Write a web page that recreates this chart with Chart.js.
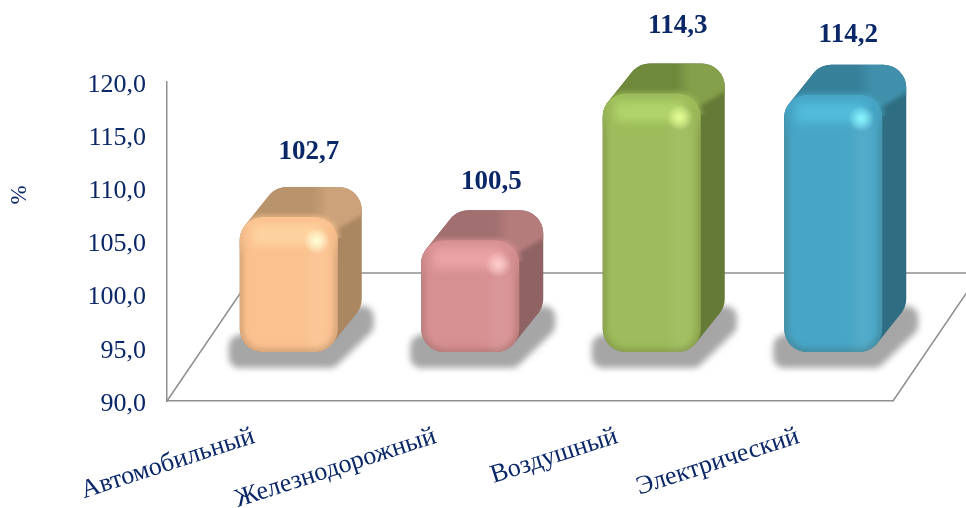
<!DOCTYPE html>
<html><head><meta charset="utf-8">
<style>html,body{margin:0;padding:0;background:#fff}canvas{display:block}</style>
<script src="https://cdn.jsdelivr.net/npm/chart.js@4"></script>
</head><body><canvas id="c" width="966" height="508"></canvas>
<script>
const categories = ['Автомобильный', 'Железнодорожный', 'Воздушный', 'Электрический'];
const values = [102.7, 100.5, 114.3, 114.2];
const yTickLabels = {90:'90,0',95:'95,0',100:'100,0',105:'105,0',110:'110,0',115:'115,0',120:'120,0'};
const axisUnit = '%';

const frontColors = ['#fbc290', '#d79092', '#9dbc5b', '#47a6c6'];
const sideColors  = ['#ab8761', '#8f6363', '#657a36', '#2f6e82'];
const topDark     = ['#b8936c', '#a16f70', '#6f893c', '#37809a'];
const topLight    = ['#cca27a', '#b57c7c', '#84a04b', '#4090ab'];
const bandColors  = ['#ffd8a6', '#f3aaac', '#b8dc70', '#57c3e2'];
const glintColors = ['255,255,215', '255,205,205', '230,255,150', '140,245,255'];
const labelNudgeX = [20, 21, 26, 15];
const labelLift   = [65, 58, 68, 60];

const NAVY = '#0a2768', LINE = '#8f8f8f', SERIF = '"Liberation Serif", serif';
const FRONT_DX = 31, FRONT_DY = -49, DEPTH_DX = 24, DEPTH_DY = -30, RADIUS = 23;
const FLOOR_DX = 87, FLOOR_DY = -128;

function box(el){
  const L = el.x - el.width/2 + FRONT_DX, R = el.x + el.width/2 + FRONT_DX;
  return {L, R, T: el.y + FRONT_DY, B: el.base + FRONT_DY, w: R-L, h: el.base-el.y};
}
function nudgeLabels(s, dx, dy){
  if(s._nudged) return;
  s._nudged = true;
  const orig = s.drawLabels;
  s.drawLabels = function(area){
    this.ctx.save(); this.ctx.translate(dx,dy); orig.call(this,area); this.ctx.restore();
  };
}
function hullOf(b){
  const hull = new Path2D();
  for(let s=0;s<=30;s++){
    const t=s/30;
    hull.roundRect(b.L+DEPTH_DX*t, b.T+DEPTH_DY*t, b.w, b.h, RADIUS);
  }
  return hull;
}
const scene = {
  id: 'scene',
  beforeDatasetsDraw(chart){
    const {ctx, chartArea:a} = chart;
    ctx.save();
    ctx.strokeStyle = LINE; ctx.lineWidth = 1.5;
    ctx.beginPath();
    ctx.moveTo(a.left, a.bottom); ctx.lineTo(a.left+FLOOR_DX, a.bottom+FLOOR_DY);
    ctx.lineTo(a.right+FLOOR_DX, a.bottom+FLOOR_DY); ctx.lineTo(a.right, a.bottom);
    ctx.stroke();
    ctx.restore();
  },
  beforeDatasetDraw(chart, args){
    const {ctx} = chart;
    const els = chart.getDatasetMeta(args.index).data;
    els.forEach((el,i)=>{
      const b = box(el);
      ctx.save();
      ctx.filter = 'blur(3px)';
      ctx.fillStyle = ctx.strokeStyle = '#a6a6a6';
      ctx.lineWidth = 22; ctx.lineJoin = 'round';
      ctx.beginPath();
      ctx.moveTo(b.L, b.B-6); ctx.lineTo(b.R+25, b.B-35); ctx.lineTo(b.R+25, b.B-27);
      ctx.lineTo(b.R-8, b.B+5); ctx.lineTo(b.L, b.B+5); ctx.closePath();
      ctx.fill(); ctx.stroke();
      ctx.restore();
      const hull = hullOf(b);
      ctx.save();
      ctx.fillStyle = sideColors[i]; ctx.fill(hull);
      ctx.clip(hull);
      const g = ctx.createLinearGradient(b.L, 0, b.R+DEPTH_DX, 0);
      g.addColorStop(0, topDark[i]); g.addColorStop(.6, topDark[i]);
      g.addColorStop(.72, topLight[i]); g.addColorStop(1, topLight[i]);
      ctx.filter = 'blur(2px)';
      ctx.fillStyle = g;
      ctx.beginPath();
      ctx.moveTo(b.L-40, b.T-50); ctx.lineTo(b.R+50, b.T-50); ctx.lineTo(b.R+50, b.T-17);
      ctx.lineTo(b.R, b.T+12); ctx.lineTo(b.L-40, b.T+40); ctx.closePath();
      ctx.fill();
      ctx.restore();
    });
    ctx.save();
    ctx.translate(FRONT_DX, FRONT_DY);
  },
  afterDatasetDraw(chart, args){
    const {ctx} = chart;
    ctx.restore();
    const els = chart.getDatasetMeta(args.index).data;
    els.forEach((el,i)=>{
      const b = box(el);
      const face = new Path2D();
      face.roundRect(b.L, b.T, b.w, b.h, RADIUS);
      ctx.save();
      ctx.clip(hullOf(b));
      ctx.beginPath(); ctx.rect(b.L-10, b.T-10, b.w+20, RADIUS+8); ctx.clip();
      ctx.filter = 'blur(2px)';
      ctx.strokeStyle = frontColors[i];
      ctx.globalAlpha = .7;
      ctx.lineWidth = 4;
      ctx.stroke(face);
      ctx.restore();

      ctx.save();
      ctx.clip(face);
      ctx.filter = 'blur(4px)';
      ctx.fillStyle = 'rgba(255,255,255,.06)';
      ctx.fillRect(b.L+b.w*.70, b.T+20, b.w*.2, b.h);
      ctx.filter = 'blur(5px)';
      ctx.fillStyle = bandColors[i];
      ctx.globalAlpha = .75;
      ctx.fillRect(b.L+12, b.T+8, b.w-28, 20);
      ctx.globalAlpha = 1;
      ctx.filter = 'blur(3px)';
      const edge = ctx.createLinearGradient(0, b.T+8, 0, b.T+42);
      edge.addColorStop(0,'rgba(60,40,20,0)');
      edge.addColorStop(1,'rgba(60,40,20,.28)');
      ctx.strokeStyle = edge;
      ctx.lineWidth = 5;
      ctx.stroke(face);
      ctx.filter = 'none';
      const sx = b.R-21, sy = b.T+24;
      const r = ctx.createRadialGradient(sx,sy,1,sx,sy,13);
      r.addColorStop(0,'rgba('+glintColors[i]+',.95)');
      r.addColorStop(.45,'rgba('+glintColors[i]+',.55)');
      r.addColorStop(1,'rgba('+glintColors[i]+',0)');
      ctx.fillStyle = r;
      ctx.fillRect(sx-13,sy-13,26,26);
      ctx.restore();
    });
  },
  afterDraw(chart){
    const {ctx} = chart;
    ctx.save();
    ctx.fillStyle = NAVY;
    ctx.textAlign='center'; ctx.textBaseline='middle';
    chart.getDatasetMeta(0).data.forEach((el,i)=>{
      const b = box(el);
      ctx.font = 'bold 27px '+SERIF;
      ctx.fillText(values[i].toFixed(1).replace('.',','), (b.L+b.R)/2+labelNudgeX[i], b.T-labelLift[i]);
    });
    ctx.translate(19.5,195); ctx.rotate(-Math.PI/2);
    ctx.font = '23px '+SERIF;
    ctx.fillText(axisUnit,0,0);
    ctx.restore();
  }
};
new Chart(document.getElementById('c'),{
  type:'bar',
  data:{labels:categories,datasets:[{
    data:values, base:90, backgroundColor:frontColors, borderWidth:0, borderRadius:RADIUS,
    borderSkipped:false, categoryPercentage:1, barPercentage:.54, clip:false
  }]},
  plugins:[scene],
  options:{
    responsive:false, animation:false, events:[],
    layout:{padding:{top:82,right:73,left:0,bottom:0}},
    plugins:{legend:{display:false},tooltip:{enabled:false},title:{display:false}},
    scales:{
      x:{
        grid:{display:false,drawTicks:false},
        border:{display:true,color:LINE,width:1.5},
        afterFit(s){s.height=107; nudgeLabels(s,-4,0);},
        ticks:{color:NAVY,font:{family:SERIF,size:26},minRotation:18,maxRotation:18,autoSkip:false,padding:20}
      },
      y:{
        min:90,max:120,
        grid:{display:false,drawTicks:false},
        border:{display:true,color:LINE,width:1.5},
        afterFit(s){s.width=167; nudgeLabels(s,0,3);},
        ticks:{stepSize:5,color:NAVY,font:{family:SERIF,size:26},padding:21,callback:v=>yTickLabels[v]}
      }
    }
  }
});
</script></body></html>
